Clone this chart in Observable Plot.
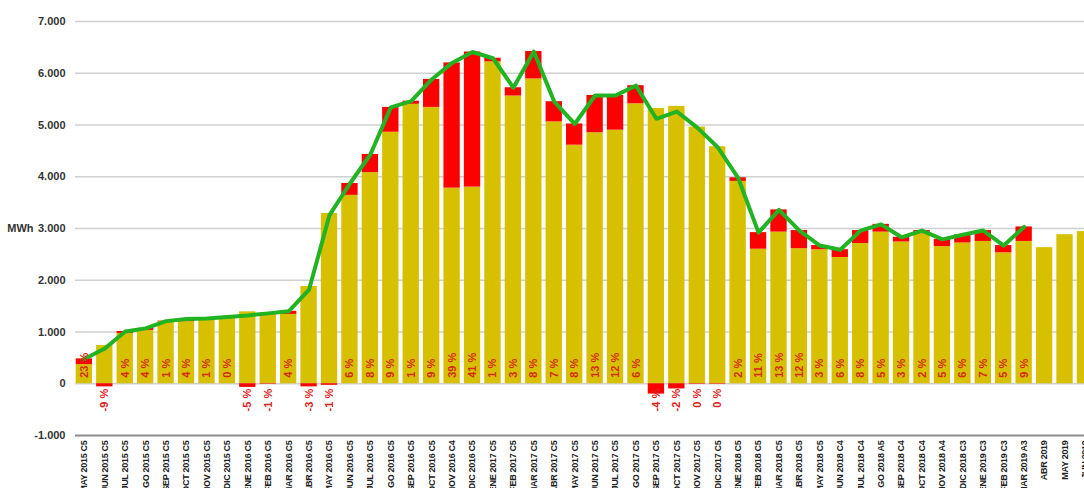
<!DOCTYPE html>
<html><head><meta charset="utf-8">
<script src="https://cdn.jsdelivr.net/npm/d3@7"></script>
<script src="https://cdn.jsdelivr.net/npm/@observablehq/plot@0.6"></script>
<style>body{margin:0;background:#fff;overflow:hidden}
g[aria-label="x-axis tick label"] text{letter-spacing:-0.3px}</style>
</head><body><div id="chart"></div>
<script>
const months = ["MAY 2015 C5","JUN 2015 C5","JUL 2015 C5","AGO 2015 C5","SEP 2015 C5","OCT 2015 C5","NOV 2015 C5","DIC 2015 C5",
"ENE 2016 C5","FEB 2016 C5","MAR 2016 C5","ABR 2016 C5","MAY 2016 C5","JUN 2016 C5","JUL 2016 C5","AGO 2016 C5","SEP 2016 C5","OCT 2016 C5","NOV 2016 C4","DIC 2016 C5",
"ENE 2017 C5","FEB 2017 C5","MAR 2017 C5","ABR 2017 C5","MAY 2017 C5","JUN 2017 C5","JUL 2017 C5","AGO 2017 C5","SEP 2017 C5","OCT 2017 C5","NOV 2017 C5","DIC 2017 C5",
"ENE 2018 C5","FEB 2018 C5","MAR 2018 C5","ABR 2018 C5","MAY 2018 C5","JUN 2018 C4","JUL 2018 C4","AGO 2018 A5","SEP 2018 C4","OCT 2018 C4","NOV 2018 A4","DIC 2018 C3",
"ENE 2019 C3","FEB 2019 C3","MAR 2019 A3","ABR 2019","MAY 2019","JUN 2019"];
const actual = [370,740,970,1030,1200,1200,1250,1290,
1390,1370,1340,1880,3290,3640,4080,4860,5400,5340,3780,3800,
6220,5560,5890,5060,4610,4850,4900,5410,5320,5360,4960,4580,
3910,2600,2930,2610,2590,2440,2710,2930,2740,2900,2650,2720,
2750,2530,2750,2630,2880,2940];
const total = [480,680,1010,1070,1210,1250,1260,1290,
1320,1360,1400,1820,3260,3870,4430,5340,5460,5880,6200,6410,
6290,5720,6420,5450,5020,5570,5570,5760,5120,5260,4950,4570,
3980,2920,3360,2960,2670,2590,2960,3080,2830,2960,2790,2880,
2960,2670,3030];
const pct = ["23 %","-9 %","4 %","4 %","1 %","4 %","1 %","0 %",
"-5 %","-1 %","4 %","-3 %","-1 %","6 %","8 %","9 %","1 %","9 %","39 %","41 %",
"1 %","3 %","8 %","7 %","8 %","13 %","12 %","6 %","-4 %","-2 %","0 %","0 %",
"2 %","11 %","13 %","12 %","3 %","6 %","8 %","5 %","3 %","2 %","5 %","6 %",
"7 %","5 %","9 %"];
const yTicks = [-1000,0,1000,2000,3000,4000,5000,6000,7000];

const rows = months.map((m,i)=>({m, actual: actual[i]}));
const diffRows = total.map((t,i)=>({m: months[i], actual: actual[i], total: t, diff: t - actual[i], pct: pct[i]}));
const fmt = d3.formatLocale({decimal:",",thousands:".",grouping:[3],currency:["",""],minus:"-"}).format(",d");

const chart = Plot.plot({
  width:1084, height:488, marginLeft:75, marginRight:0, marginTop:21, marginBottom:53,
  style:{fontFamily:"Liberation Sans, Arial, sans-serif", fontSize:"11px", fontWeight:"bold", color:"#333", overflow:"hidden", background:"#fff"},
  x:{domain:months, range:[71.6,1097.2], padding:0.2, round:false},
  y:{domain:[-1000,7000]},
  marks:[
    Plot.gridY({ticks: yTicks.filter(t=>t>-1000), stroke:"#d0d0d0", strokeOpacity:1, strokeWidth:1.5}),
    Plot.barY(rows, {x:"m", y1:()=>0, y2:"actual", fill:"#d6c000"}),
    Plot.barY(diffRows, {x:"m", y1:d=>d.diff>=0?d.actual:0, y2:d=>d.diff>=0?d.total:d.diff, fill:"#ff0000"}),
    Plot.ruleY([-1000], {stroke:"#8c8c8c", strokeWidth:2}),
    Plot.line(diffRows, {x:"m", y:"total", stroke:"#22b322", strokeWidth:4, strokeLinejoin:"round"}),
    Plot.text(diffRows.filter(d=>d.diff>=0), {x:"m", y:()=>0, text:"pct", rotate:-90, textAnchor:"start", dy:-6, fill:"#d42a10", fontSize:11, fontWeight:"bold"}),
    Plot.text(diffRows.filter(d=>d.diff<0), {x:"m", y:()=>0, text:"pct", rotate:-90, textAnchor:"end", dy:5, fill:"#e02020", fontSize:11, fontWeight:"bold"}),
    Plot.axisY({ticks: yTicks, tickSize:0, tickPadding:10, tickFormat:fmt, fill:"#333", fontSize:11, label:null}),
    Plot.axisX({tickSize:0, tickPadding:5, tickRotate:-90, fontSize:9, fill:"#222", label:null}),
    Plot.text([{y:3000,t:"MWh"}], {y:"y", text:"t", frameAnchor:"left", dx:-42, textAnchor:"end", fill:"#333", fontSize:11})
  ]
});
document.getElementById("chart").appendChild(chart);
</script>
</body></html>
